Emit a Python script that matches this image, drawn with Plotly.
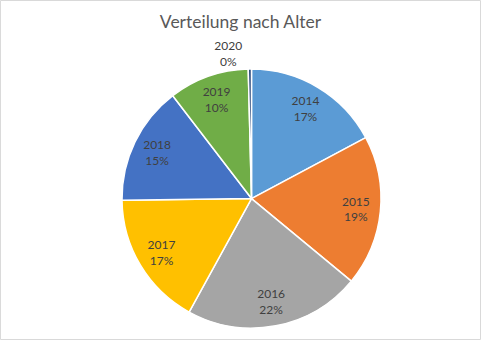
import plotly.graph_objects as go

years = ["2014", "2015", "2016", "2017", "2018", "2019", "2020"]
counts = [43, 47, 55, 42, 37, 25, 1]
colors = ["#5B9BD5", "#ED7D31", "#A5A5A5", "#FFC000", "#4472C4", "#70AD47", "#264478"]
title_text = "Verteilung nach Alter"

positions = ["outside" if c / sum(counts) < 0.01 else "inside" for c in counts]
font_family = "Lato, Open Sans, sans-serif"
domain = dict(x=[0.2536, 0.7921], y=[0.035, 0.797])

# Filled pie (no text)
base = go.Pie(
    labels=years,
    values=counts,
    sort=False,
    direction="clockwise",
    rotation=0,
    marker=dict(colors=colors, line=dict(color="white", width=1.5)),
    textinfo="none",
    showlegend=False,
    hoverinfo="label+value+percent",
    domain=domain,
)

# Transparent ring carrying the labels so they sit toward the outer edge
labels_ring = go.Pie(
    labels=years,
    values=counts,
    sort=False,
    direction="clockwise",
    rotation=0,
    hole=0.62,
    marker=dict(colors=["rgba(0,0,0,0)"] * len(years), line=dict(width=0)),
    texttemplate="%{label}<br>%{percent:.0%}",
    textposition=positions,
    insidetextorientation="horizontal",
    textfont=dict(family=font_family, size=12, color="#404040"),
    outsidetextfont=dict(family=font_family, size=12, color="#404040"),
    showlegend=False,
    hoverinfo="skip",
    domain=domain,
)

fig = go.Figure([base, labels_ring])

fig.update_layout(
    width=481,
    height=340,
    margin=dict(l=0, r=0, t=0, b=0),
    paper_bgcolor="white",
    plot_bgcolor="white",
    title=dict(
        text=title_text,
        x=0.5,
        xanchor="center",
        y=0.935,
        yanchor="middle",
        font=dict(family=font_family, size=17.5, color="#595959"),
    ),
    shapes=[
        dict(
            type="rect",
            xref="paper",
            yref="paper",
            x0=0.001,
            y0=0.0015,
            x1=0.999,
            y1=0.9985,
            line=dict(color="#D9D9D9", width=1),
            fillcolor="rgba(0,0,0,0)",
            layer="below",
        )
    ],
)

fig.write_html("out.html")
